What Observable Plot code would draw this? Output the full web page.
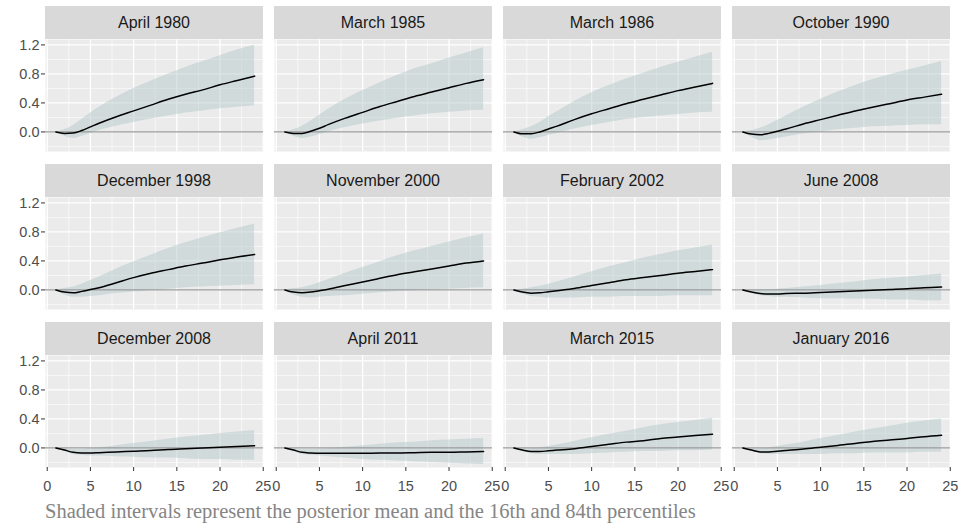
<!DOCTYPE html>
<html>
<head>
<meta charset="utf-8">
<script src="https://cdn.jsdelivr.net/npm/d3@7"></script>
<script src="https://cdn.jsdelivr.net/npm/@observablehq/plot@0.6"></script>
<style>
  body { margin: 0; background: #ffffff; }
  #chart {
    position: relative; width: 964px; height: 529px; overflow: hidden;
    font-family: "Liberation Sans", Arial, Helvetica, sans-serif;
  }
  .panel { position: absolute; }
  .strip {
    position: absolute; background: #d9d9d9; color: #1a1a1a;
    font-size: 16px; display: flex; align-items: center; justify-content: center;
  }
  .caption {
    position: absolute; left: 45px; top: 499px; line-height: 1.2;
    font-family: "Liberation Serif", "Times New Roman", serif;
    font-size: 20.5px; color: #858585; white-space: nowrap;
  }
</style>
</head>
<body>
<div id="chart"></div>
<script>
// Months after the shock at which each response is recorded
const horizons = [1, 2, 3, 4, 5, 6, 8, 10, 12, 14, 16, 18, 20, 22, 24];

// Shock episodes, one facet each (row-major order)
const episodes = [
  "April 1980", "March 1985", "March 1986", "October 1990",
  "December 1998", "November 2000", "February 2002", "June 2008",
  "December 2008", "April 2011", "March 2015", "January 2016"
];

// Posterior mean response
const meanPaths = [
  [0, -0.02, -0.015, 0.02, 0.07, 0.12, 0.21, 0.29, 0.37, 0.45, 0.52, 0.58, 0.65, 0.71, 0.77],
  [0, -0.02, -0.02, 0.01, 0.05, 0.10, 0.19, 0.27, 0.35, 0.42, 0.49, 0.55, 0.61, 0.67, 0.72],
  [0, -0.025, -0.025, 0.0, 0.04, 0.08, 0.17, 0.25, 0.32, 0.39, 0.45, 0.51, 0.57, 0.62, 0.67],
  [0, -0.03, -0.04, -0.02, 0.01, 0.04, 0.11, 0.17, 0.23, 0.29, 0.34, 0.39, 0.44, 0.48, 0.52],
  [0, -0.03, -0.04, -0.02, 0.005, 0.03, 0.10, 0.17, 0.23, 0.28, 0.33, 0.37, 0.415, 0.455, 0.49],
  [0, -0.03, -0.04, -0.03, -0.01, 0.01, 0.06, 0.11, 0.16, 0.21, 0.25, 0.29, 0.33, 0.37, 0.40],
  [0, -0.03, -0.045, -0.04, -0.025, -0.01, 0.02, 0.06, 0.10, 0.14, 0.17, 0.20, 0.23, 0.255, 0.28],
  [0, -0.03, -0.05, -0.055, -0.055, -0.05, -0.045, -0.035, -0.025, -0.015, -0.005, 0.005, 0.015, 0.03, 0.04],
  [0, -0.03, -0.06, -0.07, -0.07, -0.065, -0.055, -0.045, -0.035, -0.02, -0.01, 0.0, 0.01, 0.02, 0.03],
  [0, -0.03, -0.06, -0.07, -0.075, -0.075, -0.075, -0.075, -0.07, -0.07, -0.065, -0.06, -0.06, -0.055, -0.05],
  [0, -0.03, -0.05, -0.05, -0.04, -0.03, -0.01, 0.02, 0.05, 0.08, 0.10, 0.13, 0.15, 0.17, 0.19],
  [0, -0.03, -0.055, -0.055, -0.045, -0.035, -0.015, 0.01, 0.035, 0.06, 0.09, 0.11, 0.13, 0.155, 0.175]
];

// 16th percentile
const lowerBands = [
  [0, -0.06, -0.09, -0.06, -0.02, 0.02, 0.08, 0.13, 0.18, 0.22, 0.26, 0.29, 0.32, 0.34, 0.36],
  [0, -0.06, -0.09, -0.07, -0.04, 0.0, 0.06, 0.11, 0.15, 0.19, 0.22, 0.25, 0.27, 0.29, 0.30],
  [0, -0.07, -0.10, -0.08, -0.05, -0.02, 0.04, 0.09, 0.13, 0.17, 0.20, 0.22, 0.24, 0.26, 0.27],
  [0, -0.07, -0.12, -0.11, -0.09, -0.07, -0.03, 0.0, 0.03, 0.05, 0.07, 0.08, 0.09, 0.10, 0.10],
  [0, -0.07, -0.10, -0.10, -0.09, -0.08, -0.05, -0.03, -0.01, 0.01, 0.03, 0.04, 0.05, 0.06, 0.07],
  [0, -0.07, -0.10, -0.11, -0.10, -0.09, -0.08, -0.06, -0.04, -0.02, -0.01, 0.0, 0.01, 0.02, 0.03],
  [0, -0.06, -0.09, -0.10, -0.11, -0.11, -0.11, -0.10, -0.10, -0.09, -0.09, -0.09, -0.08, -0.08, -0.08],
  [0, -0.05, -0.08, -0.09, -0.10, -0.10, -0.11, -0.12, -0.12, -0.13, -0.13, -0.14, -0.14, -0.15, -0.15],
  [0, -0.05, -0.09, -0.10, -0.11, -0.11, -0.12, -0.13, -0.14, -0.14, -0.15, -0.16, -0.16, -0.17, -0.17],
  [0, -0.05, -0.09, -0.10, -0.11, -0.12, -0.14, -0.16, -0.17, -0.18, -0.19, -0.20, -0.21, -0.22, -0.23],
  [0, -0.05, -0.08, -0.09, -0.09, -0.09, -0.09, -0.08, -0.07, -0.06, -0.05, -0.05, -0.04, -0.04, -0.03],
  [0, -0.05, -0.08, -0.09, -0.09, -0.09, -0.09, -0.09, -0.08, -0.08, -0.07, -0.07, -0.07, -0.06, -0.06]
];

// 84th percentile
const upperBands = [
  [0, 0.03, 0.09, 0.17, 0.26, 0.34, 0.48, 0.60, 0.70, 0.80, 0.89, 0.97, 1.05, 1.13, 1.20],
  [0, 0.03, 0.08, 0.15, 0.23, 0.31, 0.45, 0.57, 0.68, 0.78, 0.87, 0.94, 1.02, 1.09, 1.16],
  [0, 0.03, 0.07, 0.13, 0.21, 0.28, 0.42, 0.54, 0.64, 0.73, 0.81, 0.89, 0.96, 1.03, 1.10],
  [0, 0.02, 0.05, 0.10, 0.16, 0.22, 0.34, 0.45, 0.55, 0.64, 0.72, 0.79, 0.85, 0.91, 0.97],
  [0, 0.02, 0.04, 0.08, 0.13, 0.18, 0.29, 0.39, 0.48, 0.57, 0.65, 0.72, 0.79, 0.85, 0.91],
  [0, 0.02, 0.03, 0.06, 0.10, 0.14, 0.23, 0.31, 0.39, 0.47, 0.54, 0.60, 0.66, 0.72, 0.77],
  [0, 0.01, 0.03, 0.05, 0.08, 0.11, 0.18, 0.25, 0.32, 0.38, 0.44, 0.49, 0.54, 0.58, 0.62],
  [0, 0.0, 0.0, 0.0, 0.01, 0.02, 0.04, 0.06, 0.09, 0.11, 0.14, 0.16, 0.18, 0.20, 0.22],
  [0, -0.01, -0.02, -0.02, -0.01, 0.0, 0.03, 0.06, 0.09, 0.12, 0.15, 0.17, 0.20, 0.22, 0.24],
  [0, -0.01, -0.02, -0.02, -0.015, -0.01, 0.01, 0.03, 0.05, 0.07, 0.08, 0.10, 0.11, 0.12, 0.13],
  [0, -0.01, -0.01, 0.0, 0.02, 0.04, 0.09, 0.14, 0.19, 0.23, 0.28, 0.32, 0.35, 0.38, 0.41],
  [0, -0.01, -0.01, 0.0, 0.02, 0.04, 0.08, 0.13, 0.17, 0.22, 0.26, 0.30, 0.34, 0.37, 0.40]
];

// Axis breaks (major and minor grid lines)
const xMajor = [0, 5, 10, 15, 20, 25];
const xMinor = [2.5, 7.5, 12.5, 17.5, 22.5];
const yMajor = [0, 0.4, 0.8, 1.2];
const yMinor = [-0.2, 0.2, 0.6, 1.0];

const caption = "Shaded intervals represent the posterior mean and the 16th and 84th percentiles";

// Layout of the 4 x 3 facet grid
const nCols = 4;
const panelW = 218, panelH = 112, stripH = 33;
const colStep = 229, rowStep = 158;
const originX = 45, originY = 39;
const mL = 45, mR = 14, mT = 0, mB = 34;

const xDomain = [-0.2, 25.03];
const yDomain = [-0.27, 1.275];

const chart = document.getElementById("chart");
const nRows = Math.ceil(episodes.length / nCols);

episodes.forEach((name, i) => {
  const col = i % nCols, row = Math.floor(i / nCols);
  const left = originX + col * colStep, top = originY + row * rowStep;

  const rows = horizons.map((h, k) => ({
    h, mean: meanPaths[i][k], lo: lowerBands[i][k], hi: upperBands[i][k]
  }));

  const marks = [
    Plot.frame({fill: "#ebebeb", stroke: null}),
    Plot.gridX(xMinor, {stroke: "#ffffff", strokeOpacity: 1, strokeWidth: 0.6}),
    Plot.gridY(yMinor, {stroke: "#ffffff", strokeOpacity: 1, strokeWidth: 0.6}),
    Plot.gridX(xMajor, {stroke: "#ffffff", strokeOpacity: 1, strokeWidth: 1.3}),
    Plot.gridY(yMajor, {stroke: "#ffffff", strokeOpacity: 1, strokeWidth: 1.3}),
    Plot.areaY(rows, {x: "h", y1: "lo", y2: "hi", fill: "#afc6c6", fillOpacity: 0.45, curve: "monotone-x"}),
    Plot.ruleY([0], {stroke: "#999999", strokeWidth: 1.3}),
    Plot.line(rows, {x: "h", y: "mean", stroke: "#000000", strokeWidth: 1.5, curve: "monotone-x"})
  ];
  if (col === 0) {
    marks.push(Plot.axisY(yMajor, {
      tickFormat: d3.format(".1f"), tickSize: 4, tickPadding: 2,
      stroke: "#333333", fill: "#4d4d4d", fontSize: 14.5, label: null
    }));
  }
  if (row === nRows - 1) {
    marks.push(Plot.axisX(xMajor, {
      tickFormat: d3.format("d"), tickSize: 4, tickPadding: 9,
      stroke: "#333333", fill: "#4d4d4d", fontSize: 14.5, label: null
    }));
  }

  const svg = Plot.plot({
    width: panelW + mL + mR,
    height: panelH + mT + mB,
    marginLeft: mL, marginRight: mR, marginTop: mT, marginBottom: mB,
    style: {background: "transparent", overflow: "visible",
            fontFamily: "'Liberation Sans', Arial, Helvetica, sans-serif"},
    x: {domain: xDomain, axis: null},
    y: {domain: yDomain, axis: null},
    marks
  });
  svg.classList.add("panel");
  svg.style.left = (left - mL) + "px";
  svg.style.top = (top - mT) + "px";
  chart.appendChild(svg);

  const strip = document.createElement("div");
  strip.className = "strip";
  strip.style.left = left + "px";
  strip.style.top = (top - stripH) + "px";
  strip.style.width = panelW + "px";
  strip.style.height = stripH + "px";
  strip.textContent = name;
  chart.appendChild(strip);
});

const cap = document.createElement("div");
cap.className = "caption";
cap.textContent = caption;
chart.appendChild(cap);
</script>
</body>
</html>
